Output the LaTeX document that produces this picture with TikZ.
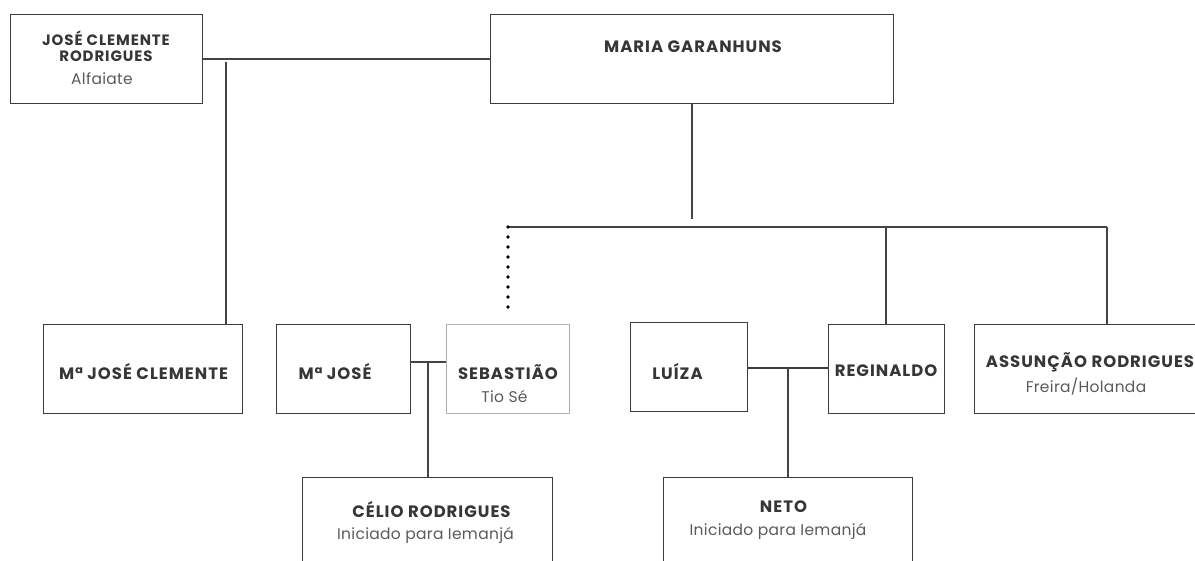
\documentclass[tikz,border=0pt]{standalone}
\usepackage{fontspec}
\setmainfont{Poppins}
\newfontfamily\nmfont{Poppins}[LetterSpace=6]
\newfontfamily\subfont{Poppins}[LetterSpace=2]
\definecolor{txt}{HTML}{363636}
\definecolor{sub}{HTML}{5A5A5A}
\definecolor{brd}{HTML}{3D3D3D}
\definecolor{lin}{HTML}{444444}
\definecolor{lite}{HTML}{B0B0B0}
\begin{document}
\begin{tikzpicture}[x=1pt,y=-1pt,
  box/.style={draw=brd, line width=1.2pt, rectangle, anchor=north west, inner sep=0pt},
  nm/.style={text=txt, font=\nmfont\fontsize{16.5}{18}\selectfont\bfseries, inner sep=0pt, anchor=center},
  smallnm/.style={text=txt, font=\nmfont\fontsize{15}{16}\selectfont\bfseries, inner sep=0pt, align=center},
  subt/.style={text=sub, font=\subfont\fontsize{15.5}{17}\selectfont, inner sep=0pt, anchor=center},
  conn/.style={draw=lin, line width=1.3pt}]
\useasboundingbox (0,0) rectangle (1195,561);
\begin{scope}
\clip (0,0) rectangle (1195,561);
% boxes
\node[box, minimum width=192pt, minimum height=89pt] (jcr) at (10,14) {};
\node[box, minimum width=403pt, minimum height=89pt] (mg) at (490,14) {};
\node[box, minimum width=199pt, minimum height=89pt] (mjc) at (43,324) {};
\node[box, minimum width=134pt, minimum height=89pt] (mj) at (276,324) {};
\node[box, draw=lite, minimum width=123pt, minimum height=89pt] (seb) at (446,324) {};
\node[box, minimum width=117pt, minimum height=89pt] (lui) at (630,322) {};
\node[box, minimum width=116pt, minimum height=89pt] (reg) at (828,324) {};
\node[box, minimum width=260pt, minimum height=89pt] (ass) at (974,324) {};
\node[box, minimum width=250pt, minimum height=120pt] (cel) at (302,477) {};
\node[box, minimum width=249pt, minimum height=120pt] (neto) at (663,477) {};
\end{scope}
% texts
\node[smallnm] (jcr-t) at (106,46) {JOSÉ CLEMENTE\\RODRIGUES};
\node[subt] (jcr-s) at (102,79) {Alfaiate};
\node[nm] (mg-t) at (693,47) {MARIA GARANHUNS};
\node[nm] (mjc-t) at (143.5,372) {Mª JOSÉ CLEMENTE};
\node[nm] (mj-t) at (335,372) {Mª JOSÉ};
\node[nm] (seb-t) at (508,372) {SEBASTIÃO};
\node[subt] (seb-s) at (504.5,397) {Tio Sé};
\node[nm] (lui-t) at (677.5,372) {LUÍZA};
\node[nm] (reg-t) at (886,371) {REGINALDO};
\node[nm] (ass-t) at (1090,362) {ASSUNÇÃO RODRIGUES};
\node[subt] (ass-s) at (1086,387) {Freira/Holanda};
\node[nm] (cel-t) at (431.5,510) {CÉLIO RODRIGUES};
\node[subt] (cel-s) at (425.5,535) {Iniciado para Iemanjá};
\node[nm] (neto-t) at (783.5,507) {NETO};
\node[subt] (neto-s) at (778,531) {Iniciado para Iemanjá};
% connectors
\draw[conn] (jcr.east) -- (mg.west);
\coordinate (jv) at (226,62);
\draw[conn] (jv) -- (jv |- mjc.north);
\coordinate (mgv) at (692,219);
\draw[conn] (mgv |- mg.south) -- (mgv);
\coordinate (hl) at (508,227);
\coordinate (hr) at (1107,227);
\coordinate (rv) at (886,227);
\draw[conn] (hl) -- (hr);
\draw[conn] (rv) -- (rv |- reg.north);
\draw[conn] (hr) -- (hr |- ass.north);
\foreach \i in {0,...,8} \fill[black] (508,227+10*\i) circle (1.9pt);
\coordinate (mjv) at (428,362);
\draw[conn] (mjv -| mj.east) -- (mjv -| seb.west);
\draw[conn] (mjv) -- (mjv |- cel.north);
\coordinate (lv) at (788,368);
\draw[draw=brd, line width=2pt] (lv -| lui.east) -- (lv -| reg.west);
\draw[conn] (lv) -- (lv |- neto.north);
\end{tikzpicture}
\end{document}
